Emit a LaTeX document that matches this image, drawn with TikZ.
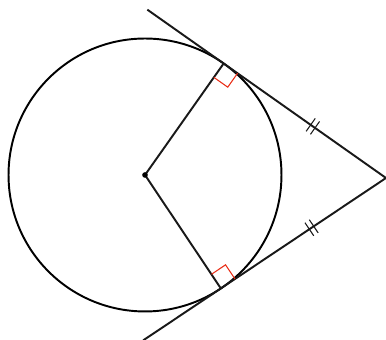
\documentclass[tikz,border=0pt]{standalone}
\usepackage{tikz}
\usetikzlibrary{calc,decorations.markings}

\begin{document}
\begin{tikzpicture}[
x=0.02cm,
y=0.02cm,
line/.style={line width=1.1pt,black!90},
rightmark/.style={line width=0.6pt,red!65!brown},
twoticks/.style={postaction={decorate},decoration={markings,
  mark=at position 0.55 with {\draw[line width=0.6pt] (-1.5pt,-4.5pt) -- (-1.5pt,4.5pt);
                              \draw[line width=0.6pt] (1.5pt,-4.5pt) -- (1.5pt,4.5pt);}}}
]
\useasboundingbox (0,0) rectangle (386,340);
\coordinate (O) at (145,165);
\coordinate (P) at (386,162);
\node[circle,draw,line width=1.1pt,minimum size=5.46cm,inner sep=0pt,outer sep=0pt] (c) at (O) {};
\coordinate (T1) at (tangent cs:node=c,point={(P)},solution=2);
\coordinate (T2) at (tangent cs:node=c,point={(P)},solution=1);
% free ends of the tangents
\coordinate (E1) at ($(P)!1.47!(T1)$);
\coordinate (E2) at ($(P)!1.47!(T2)$);

\draw[line] (E1) -- (T1);
\draw[line] (E2) -- (T2);
\draw[line,twoticks] (T1) -- (P);
\draw[line,twoticks] (T2) -- (P);
\draw[line] (O) -- (T1);
\draw[line] (O) -- (T2);
\fill (O) circle (1.6pt);

% right angles
\draw[rightmark] ($(T1)!0.34cm!(O)$) -- ($($(T1)!0.34cm!(O)$)+($(T1)!0.34cm!(P)$)-(T1)$) -- ($(T1)!0.34cm!(P)$);
\draw[rightmark] ($(T2)!0.34cm!(O)$) -- ($($(T2)!0.34cm!(O)$)+($(T2)!0.34cm!(P)$)-(T2)$) -- ($(T2)!0.34cm!(P)$);
\end{tikzpicture}
\end{document}
